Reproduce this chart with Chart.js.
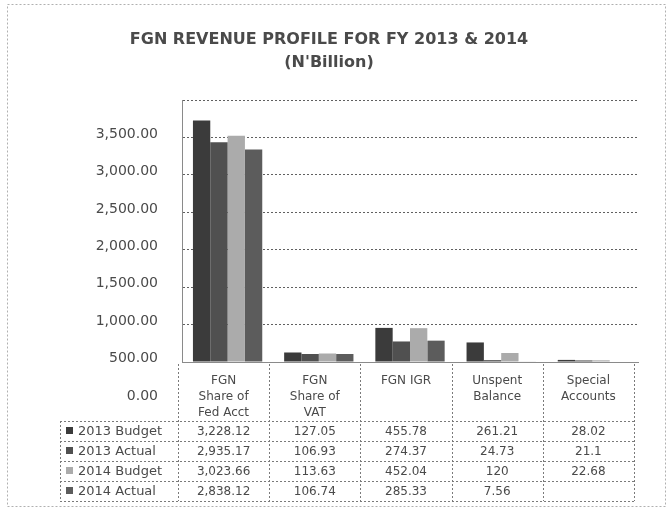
<!DOCTYPE html>
<html>
<head>
<meta charset="utf-8">
<script src="https://cdn.jsdelivr.net/npm/chart.js@4.4.1/dist/chart.umd.min.js"></script>
<style>
  html, body { margin: 0; padding: 0; background: #ffffff; }
  #wrap { width: 672px; height: 511px; }
</style>
</head>
<body>
<div id="wrap"><canvas id="c" width="672" height="511"></canvas></div>
<script>
// ---- data ----
const categories = [
  ["FGN", "Share of", "Fed Acct"],
  ["FGN", "Share of", "VAT"],
  ["FGN IGR"],
  ["Unspent", "Balance"],
  ["Special", "Accounts"]
];
const seriesNames = ["2013 Budget", "2013 Actual", "2014 Budget", "2014 Actual"];
const budget2013 = [3228.12, 127.05, 455.78, 261.21, 28.02];
const actual2013 = [2935.17, 106.93, 274.37, 24.73, 21.1];
const budget2014 = [3023.66, 113.63, 452.04, 120, 22.68];
const actual2014 = [2838.12, 106.74, 285.33, 7.56, null];
const yTicks = [0, 500, 1000, 1500, 2000, 2500, 3000, 3500];

const seriesValues = [budget2013, actual2013, budget2014, actual2014];
const seriesColors = ["#3b3b3b", "#505050", "#ababab", "#5c5c5c"];

const FONT = "'DejaVu Sans', 'Liberation Sans', sans-serif";
const TEXT = "#4a4a4a";
const TABLE_SHIFT = -4;

function fmtTable(v) {
  if (v === null || v === undefined) return "";
  return v.toLocaleString("en-US", { maximumFractionDigits: 2 });
}

const tablePlugin = {
  id: "dataTable",
  beforeDraw(chart) {
    const ctx = chart.ctx;
    ctx.save();
    ctx.strokeStyle = "#b0b0b0";
    ctx.lineWidth = 1;
    ctx.setLineDash([2, 2]);
    ctx.strokeRect(7.5, 4.5, 658, 502);
    ctx.restore();
  },
  afterDraw(chart) {
    const ctx = chart.ctx;
    const xs = chart.scales.x;
    const area = chart.chartArea;
    const n = categories.length;
    const catW = (xs.right - xs.left) / n;
    const headerTop = area.bottom + 2;
    const rowsTop = area.bottom + 59;
    const rowH = 20;
    const bottom = rowsTop + rowH * seriesNames.length;
    const leftX = 60;
    const bounds = [];
    for (let i = 0; i <= n; i++) bounds.push(Math.round(xs.left + i * catW + TABLE_SHIFT) + 0.5);

    ctx.save();
    ctx.strokeStyle = "#7a7a7a";
    ctx.lineWidth = 1;
    ctx.setLineDash([2, 2]);
    bounds.forEach(b => {
      ctx.beginPath();
      ctx.moveTo(b, headerTop);
      ctx.lineTo(b, bottom);
      ctx.stroke();
    });
    ctx.beginPath();
    ctx.moveTo(leftX + 0.5, rowsTop);
    ctx.lineTo(leftX + 0.5, bottom);
    ctx.stroke();
    for (let r = 0; r <= seriesNames.length; r++) {
      const y = Math.round(rowsTop + r * rowH) + 0.5;
      ctx.beginPath();
      ctx.moveTo(leftX, y);
      ctx.lineTo(bounds[n], y);
      ctx.stroke();
    }
    ctx.setLineDash([]);

    ctx.textBaseline = "middle";
    seriesNames.forEach((name, r) => {
      const cy = rowsTop + r * rowH + rowH / 2;
      ctx.fillStyle = seriesColors[r];
      ctx.fillRect(leftX + 6, cy - 4, 7, 7);
      ctx.fillStyle = TEXT;
      ctx.font = "13px " + FONT;
      ctx.textAlign = "left";
      ctx.fillText(name, leftX + 18, cy + 1);
      ctx.font = "12px " + FONT;
      ctx.textAlign = "center";
      seriesValues[r].forEach((v, i) => {
        const cx = xs.getPixelForValue(i) + TABLE_SHIFT;
        ctx.fillText(fmtTable(v), cx, cy + 1);
      });
    });
    ctx.restore();
  }
};

new Chart(document.getElementById("c"), {
  type: "bar",
  data: {
    labels: categories,
    datasets: seriesNames.map((name, i) => ({
      label: name,
      data: seriesValues[i],
      backgroundColor: seriesColors[i],
      borderWidth: 0,
      barPercentage: 1.0,
      categoryPercentage: 0.76
    }))
  },
  options: {
    responsive: false,
    animation: false,
    layout: { padding: { top: 20, left: 20, right: 34, bottom: 8 } },
    plugins: {
      legend: { display: false },
      title: {
        display: true,
        text: ["FGN REVENUE PROFILE FOR FY 2013 & 2014", "(N'Billion)"],
        color: TEXT,
        font: { family: FONT, size: 16, weight: "bold", lineHeight: 1.44 },
        padding: { top: 8, bottom: 26 }
      },
      tooltip: { enabled: true }
    },
    scales: {
      x: {
        grid: { display: false, drawTicks: false },
        border: { display: true, color: "#8a8a8a", dash: [2, 2] },
        ticks: {
          color: TEXT,
          font: { family: FONT, size: 12, lineHeight: 1.33 },
          padding: 11,
          maxRotation: 0,
          autoSkip: false,
          labelOffset: TABLE_SHIFT
        },
        afterFit(scale) { scale.height = 141; }
      },
      y: {
        min: 0,
        max: 3500,
        afterBuildTicks(scale) { scale.ticks = yTicks.map(v => ({ value: v })); },
        grid: { color: "#606060", lineWidth: 1, drawTicks: false },
        border: { display: true, color: "#8a8a8a", dash: [2, 2] },
        ticks: {
          color: TEXT,
          font: { family: FONT, size: 14 },
          padding: 24,
          labelOffset: 34,
          callback: v => Number(v).toLocaleString("en-US", { minimumFractionDigits: 2, maximumFractionDigits: 2 })
        },
        afterFit(scale) { scale.width = 162; }
      }
    }
  },
  plugins: [tablePlugin]
});
</script>
</body>
</html>
